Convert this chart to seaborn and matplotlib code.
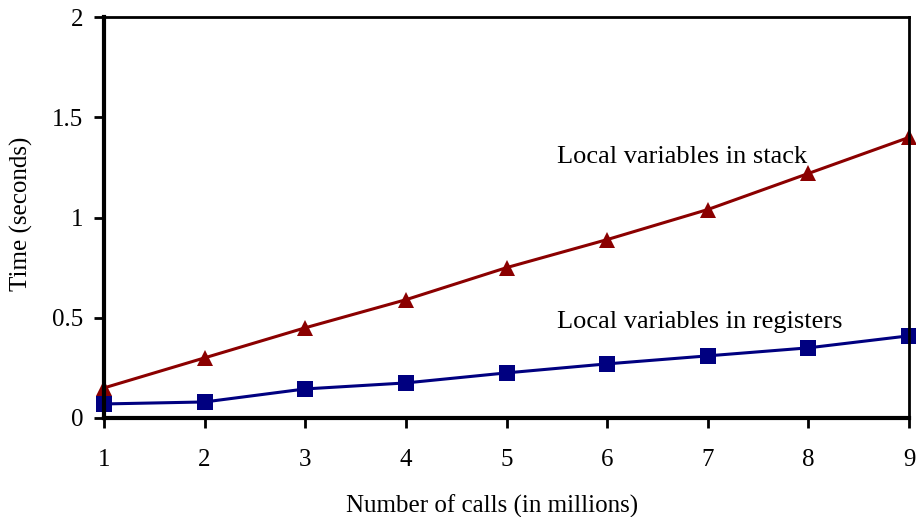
import numpy as np
import pandas as pd
import matplotlib
matplotlib.use("Agg")
import matplotlib.pyplot as plt
import seaborn as sns

# values
calls = [1, 2, 3, 4, 5, 6, 7, 8, 9]
stack_times = [0.15, 0.30, 0.45, 0.59, 0.75, 0.89, 1.04, 1.22, 1.40]
register_times = [0.07, 0.08, 0.145, 0.175, 0.225, 0.27, 0.31, 0.35, 0.41]
series_names = ["Local variables in stack", "Local variables in registers"]
y_ticks = [0, 0.5, 1, 1.5, 2]
y_tick_labels = ["0", "0.5", "1", "1.5", "2"]

df = pd.DataFrame({
    "calls": calls * 2,
    "time": stack_times + register_times,
    "series": [series_names[0]] * len(calls) + [series_names[1]] * len(calls),
})

sns.set_style("white")
plt.rcParams["font.family"] = ["Liberation Serif", "DejaVu Serif"]
plt.rcParams["text.color"] = "black"
plt.rcParams["axes.labelcolor"] = "black"

fig = plt.figure(figsize=(9.16, 5.17), dpi=100)
ax = fig.add_axes([0.1135, 0.1915, 0.879, 0.7755])

sns.lineplot(data=df, x="calls", y="time", hue="series", style="series",
             palette={series_names[0]: "#8b0000", series_names[1]: "#000080"},
             markers={series_names[0]: "^", series_names[1]: "s"},
             dashes=False, markersize=12, linewidth=2.2, markeredgewidth=0,
             legend=False, ax=ax, clip_on=False)

ax.set_xlim(1, 9)
ax.set_ylim(0, 2)
ax.set_xticks(calls)
ax.set_yticks(y_ticks)
ax.set_yticklabels(y_tick_labels)
ax.tick_params(axis="both", labelsize=18, colors="black", length=7, width=2,
               direction="out", left=True, bottom=True)
ax.tick_params(axis="x", pad=15)
ax.tick_params(axis="y", pad=8)

for side in ["left", "bottom"]:
    ax.spines[side].set_linewidth(3)
for side in ["top", "right"]:
    ax.spines[side].set_linewidth(2)
for sp in ax.spines.values():
    sp.set_color("black")

ax.set_xlabel("Number of calls (in millions)", fontsize=18)
ax.set_ylabel("Time (seconds)", fontsize=18)
ax.xaxis.set_label_coords(0.482, -0.19)
ax.yaxis.set_label_coords(-0.088, 0.51)

ax.text(5.5, 1.30, series_names[0], fontsize=19, ha="left", va="center")
ax.text(5.5, 0.48, series_names[1], fontsize=19, ha="left", va="center")

fig.savefig("out.png", dpi=100)
